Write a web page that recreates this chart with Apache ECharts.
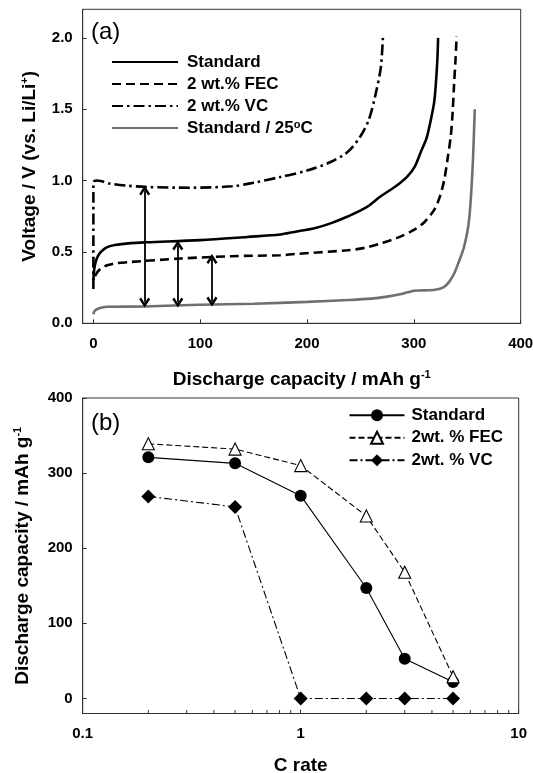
<!DOCTYPE html>
<html>
<head>
<meta charset="utf-8">
<script src="https://cdn.jsdelivr.net/npm/echarts@6/dist/echarts.min.js"></script>
<style>
html,body{margin:0;padding:0;background:#fff;}
#c{width:533px;height:773px;}
</style>
</head>
<body>
<div id="c"></div>
<script>
// ---------- Panel (a): voltage profiles ----------
const stdX  = [0, 0.5, 1.5, 3, 5, 7, 12, 20, 35, 50, 100, 144, 175, 188, 207, 222, 238, 255, 269, 283, 294, 301, 306.5, 312, 316, 319, 320.5, 322, 322.7];
const stdV  = [0.30, 0.36, 0.41, 0.45, 0.48, 0.50, 0.53, 0.548, 0.562, 0.568, 0.583, 0.605, 0.622, 0.64, 0.666, 0.70, 0.748, 0.81, 0.89, 0.96, 1.03, 1.10, 1.20, 1.30, 1.43, 1.55, 1.67, 1.85, 2.0];
const fecX  = [1.5, 3, 5, 8, 13, 20, 35, 82, 129, 175, 188, 238, 255, 269, 285, 300, 310, 319, 324, 328.3, 331.5, 334.5, 336.3, 337.6, 339, 340];
const fecV  = [0.33, 0.35, 0.37, 0.39, 0.406, 0.42, 0.43, 0.454, 0.47, 0.477, 0.485, 0.512, 0.53, 0.56, 0.60, 0.654, 0.71, 0.795, 0.88, 1.0, 1.15, 1.31, 1.48, 1.67, 1.85, 2.01];
const vcX   = [0, 0, 3, 8, 15, 30, 50, 90, 130, 150, 175, 200, 222, 238, 250, 258, 264, 269, 271];
const vcV   = [0.24, 0.99, 1.0, 0.995, 0.98, 0.965, 0.955, 0.95, 0.96, 0.985, 1.025, 1.07, 1.13, 1.20, 1.31, 1.43, 1.60, 1.79, 2.0];
const rtX   = [0, 1, 3.7, 8, 13, 50, 100, 150, 200, 238, 260, 275, 288, 294, 300, 305, 320, 328, 333, 337.6, 342, 347, 351.7, 354.9, 357];
const rtV   = [0.064, 0.085, 0.10, 0.11, 0.116, 0.118, 0.13, 0.137, 0.15, 0.163, 0.173, 0.187, 0.205, 0.217, 0.228, 0.23, 0.235, 0.253, 0.29, 0.347, 0.43, 0.536, 0.725, 1.08, 1.50];
// double-headed arrows: x, lower end, upper end
const arrowX   = [48, 79, 111];
const arrowLow = [0.145, 0.145, 0.152];
const arrowHigh= [0.93, 0.545, 0.45];
const aXTicks = [0, 100, 200, 300, 400];
const aYTicks = [0, 0.5, 1.0, 1.5, 2.0];
const aNames = ['Standard', '2 wt.% FEC', '2 wt.% VC', 'Standard / 25oC'];

// ---------- Panel (b): rate capability ----------
const cRates = [0.2, 0.5, 1, 2, 3, 5];
const bStd = [321, 313, 270, 147, 53, 22];
const bFEC = [339, 332, 310, 243, 168, 29];
const bVC  = [269, 255, 0, 0, 0, 0];
const bYTicks = [0, 100, 200, 300, 400];
const bMinorTicks = [0.2, 0.3, 0.4, 0.5, 0.6, 0.7, 0.8, 0.9, 2, 3, 4, 5, 6, 7, 8, 9];
const bNames = ['Standard', '2wt. % FEC', '2wt. % VC'];

const FONT = 'Liberation Sans, Arial, sans-serif';
const AX = '#333';
const pair = (xs, ys) => xs.map((x, i) => [x, ys[i]]);

const chart = echarts.init(document.getElementById('c'), null, {renderer: 'canvas'});

const commonAxisLine = {show: true, onZero: false, lineStyle: {color: AX, width: 1}};
const tickInside = {show: true, inside: true, length: 4, lineStyle: {color: AX, width: 1}};
const tickLabel = {fontFamily: FONT, fontWeight: 'bold', fontSize: 15, color: '#000'};
const nameStyle = {
  fontFamily: FONT, fontWeight: 'bold', fontSize: 19, color: '#000',
  rich: {
    n: {fontFamily: FONT, fontWeight: 'bold', fontSize: 19, color: '#000', lineHeight: 20},
    sup: {fontFamily: FONT, fontWeight: 'bold', fontSize: 11, color: '#000', verticalAlign: 'top', lineHeight: 20, padding: [0, 0, 9, 0]}
  }
};

const chevron = 'path://M5,0 L10,8 L8.2,9.6 L5,4.2 L1.8,9.6 L0,8 Z';

const arrowData = arrowX.map((x, i) => [
  {coord: [x, arrowLow[i]]},
  {coord: [x, arrowHigh[i]]}
]);

const option = {
  animation: false,
  backgroundColor: '#fff',
  textStyle: {fontFamily: FONT},
  grid: [
    {left: 82.7, right: 12.3, top: 9.3, bottom: 449.7, show: true, borderColor: AX, borderWidth: 1, containLabel: false, outerBoundsMode: 'none'},
    {left: 82.7, right: 14.3, top: 398, bottom: 59.5, show: true, borderColor: AX, borderWidth: 1, containLabel: false, outerBoundsMode: 'none'}
  ],
  xAxis: [
    {
      gridIndex: 0, type: 'value', min: -10, max: 400,
      axisLine: commonAxisLine,
      axisTick: Object.assign({customValues: aXTicks}, tickInside),
      axisLabel: Object.assign({customValues: aXTicks, margin: 13}, tickLabel),
      splitLine: {show: false},
      name: '{n|Discharge capacity / mAh g}{sup|-1}',
      nameLocation: 'middle', nameGap: 46, nameTextStyle: nameStyle
    },
    {
      gridIndex: 1, type: 'log', logBase: 10, min: 0.1, max: 10,
      axisLine: commonAxisLine,
      axisTick: tickInside,
      minorTick: {show: false},
      axisLabel: Object.assign({margin: 13, formatter: v => String(v)}, tickLabel),
      splitLine: {show: false},
      name: 'C rate',
      nameLocation: 'middle', nameGap: 42.5, nameTextStyle: nameStyle
    }
  ],
  yAxis: [
    {
      gridIndex: 0, type: 'value', min: 0, max: 2.2,
      axisLine: commonAxisLine,
      axisTick: Object.assign({customValues: aYTicks}, tickInside),
      axisLabel: Object.assign({customValues: aYTicks, margin: 10, formatter: v => v.toFixed(1)}, tickLabel),
      splitLine: {show: false},
      name: '{n|Voltage / V (vs. Li/Li}{sup|+}{n|)}',
      nameLocation: 'middle', nameGap: 43, nameTextStyle: nameStyle
    },
    {
      gridIndex: 1, type: 'value', min: -20, max: 400,
      axisLine: commonAxisLine,
      axisTick: Object.assign({customValues: bYTicks}, tickInside),
      axisLabel: Object.assign({customValues: bYTicks, margin: 10}, tickLabel),
      splitLine: {show: false},
      name: '{n|Discharge capacity / mAh g}{sup|-1}',
      nameLocation: 'middle', nameGap: 50, nameTextStyle: nameStyle
    }
  ],
  legend: [
    {
      data: aNames, left: 106, top: 48.5, orient: 'vertical',
      itemWidth: 66, itemHeight: 14, itemGap: 5,
      itemStyle: {opacity: 0},
      textStyle: {
        fontFamily: FONT, fontWeight: 'bold', fontSize: 17, color: '#000', lineHeight: 17, padding: [0, 0, 0, 4],
        rich: {
          n: {fontFamily: FONT, fontWeight: 'bold', fontSize: 17, color: '#000', lineHeight: 17},
          sup: {fontFamily: FONT, fontWeight: 'bold', fontSize: 11, color: '#000', lineHeight: 17, verticalAlign: 'top', padding: [0, 0, 7, 0]}
        }
      },
      formatter: name => name === 'Standard / 25oC' ? '{n|Standard / 25}{sup|o}{n|C}' : name,
      selectedMode: false
    },
    {
      data: bNames.map(n => 'b:' + n), left: 343.5, top: 401.8, orient: 'vertical',
      itemWidth: 55, itemHeight: 15, itemGap: 5.5,
      textStyle: {fontFamily: FONT, fontWeight: 'bold', fontSize: 17, color: '#000', lineHeight: 17, padding: [0, 0, 0, 2]},
      formatter: name => name.slice(2),
      selectedMode: false
    }
  ],
  graphic: [
    {type: 'text', left: 91, top: 20, style: {text: '(a)', font: '24px ' + FONT, fill: '#000'}},
    {type: 'text', left: 91, top: 411, style: {text: '(b)', font: '24px ' + FONT, fill: '#000'}}
  ],
  series: [
    {
      name: aNames[0], type: 'line', xAxisIndex: 0, yAxisIndex: 0,
      data: pair(stdX, stdV), symbol: 'none', showSymbol: false, smooth: 0.3,
      lineStyle: {color: '#000', width: 2.6, type: 'solid'}, itemStyle: {color: '#000'}
    },
    {
      name: aNames[1], type: 'line', xAxisIndex: 0, yAxisIndex: 0,
      data: pair(fecX, fecV), symbol: 'none', showSymbol: false, smooth: 0.3,
      lineStyle: {color: '#000', width: 2.6, type: [9, 5]}, itemStyle: {color: '#000'}
    },
    {
      name: aNames[2], type: 'line', xAxisIndex: 0, yAxisIndex: 0,
      data: pair(vcX, vcV), symbol: 'none', showSymbol: false, smooth: 0.3,
      lineStyle: {color: '#000', width: 2.6, type: [11, 4, 2.5, 4]}, itemStyle: {color: '#000'}
    },
    {
      name: aNames[3], type: 'line', xAxisIndex: 0, yAxisIndex: 0,
      data: pair(rtX, rtV), symbol: 'none', showSymbol: false, smooth: 0.3,
      lineStyle: {color: '#6f6f6f', width: 2.6, type: 'solid'}, itemStyle: {color: '#6f6f6f'},
      markLine: {
        silent: true, animation: false,
        symbol: [chevron, chevron], symbolSize: [11, 10],
        label: {show: false},
        lineStyle: {color: '#000', width: 1.8, type: 'solid'},
        emphasis: {disabled: true},
        data: arrowData
      }
    },
    {
      name: 'b:' + bNames[0], type: 'line', xAxisIndex: 1, yAxisIndex: 1,
      data: pair(cRates, bStd), symbol: 'circle', symbolSize: 12,
      lineStyle: {color: '#000', width: 1.1, type: 'solid'},
      itemStyle: {color: '#000', borderColor: '#000', borderWidth: 0}
    },
    {
      name: 'b:' + bNames[1], type: 'line', xAxisIndex: 1, yAxisIndex: 1,
      data: pair(cRates, bFEC), symbol: 'triangle', symbolSize: 12,
      lineStyle: {color: '#000', width: 1.1, type: [6, 3]},
      itemStyle: {color: '#fff', borderColor: '#000', borderWidth: 1.1}
    },
    {
      name: 'b:' + bNames[2], type: 'line', xAxisIndex: 1, yAxisIndex: 1,
      data: pair(cRates, bVC), symbol: 'diamond', symbolSize: 14,
      lineStyle: {color: '#000', width: 1.1, type: [8, 3, 2, 3]},
      itemStyle: {color: '#000'}
    },
    {
      name: 'minorTicks', type: 'custom', xAxisIndex: 1, yAxisIndex: 1,
      silent: true, clip: false,
      data: bMinorTicks.map(v => [v, -20]),
      renderItem: function (params, api) {
        const p = api.coord([api.value(0), api.value(1)]);
        return {
          type: 'line',
          shape: {x1: p[0], y1: p[1], x2: p[0], y2: p[1] - 3.5},
          style: {stroke: AX, lineWidth: 1}
        };
      }
    }
  ]
};
chart.setOption(option);
</script>
</body>
</html>
